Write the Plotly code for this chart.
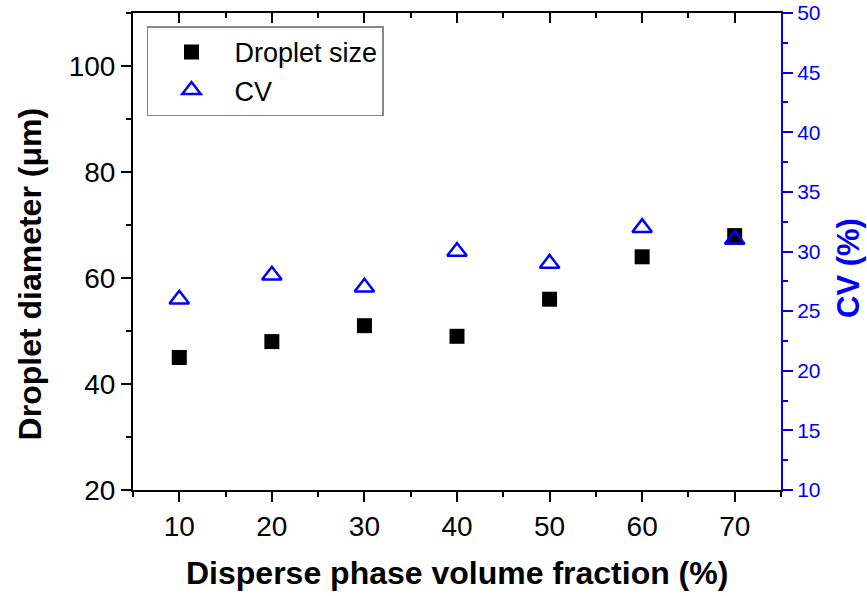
import plotly.graph_objects as go

fraction = [10, 20, 30, 40, 50, 60, 70]
droplet_size = [45, 48, 51, 49, 56, 64, 68]
cv = [26, 28, 27, 30, 29, 32, 31]

FONT = "Liberation Sans, Arial, sans-serif"
BLUE = "#0000FF"

fig = go.Figure()
fig.add_trace(go.Scatter(x=fraction, y=droplet_size, mode="markers", name="Droplet size",
                         marker=dict(symbol="square", size=15, color="black",
                                     line=dict(width=0))))
fig.add_trace(go.Scatter(x=fraction, y=cv, mode="markers", name="CV", yaxis="y2",
                         marker=dict(symbol="triangle-up-open", size=17, color=BLUE,
                                     line=dict(width=2.5, color=BLUE))))
# invisible trace to anchor the top mirror axis
fig.add_trace(go.Scatter(x=[fraction[0]], y=[droplet_size[0]], xaxis="x2", mode="markers",
                         marker=dict(opacity=0), showlegend=False, hoverinfo="skip"))

fig.update_layout(
    width=867, height=596,
    margin=dict(l=133, r=86, t=13, b=106, autoexpand=False),
    paper_bgcolor="white", plot_bgcolor="white",
    font=dict(family=FONT, color="black"),
    showlegend=True,
    legend=dict(x=0.0216, y=0.972, xanchor="left", yanchor="top",
                bgcolor="white", bordercolor="#888888", borderwidth=1.5,
                font=dict(size=27, family=FONT), itemsizing="trace",
                itemwidth=76, entrywidth=186, entrywidthmode="pixels", tracegroupgap=0),
    xaxis=dict(range=[5, 75], tick0=10, dtick=10, ticks="outside", ticklen=10, tickwidth=1.5,
               tickcolor="black", showline=True, linecolor="black", linewidth=2,
               showgrid=False, zeroline=False, automargin=False,
               tickfont=dict(size=28, family=FONT),
               minor=dict(dtick=5, tick0=5, ticks="outside", ticklen=5, tickwidth=1.5, tickcolor="black")),
    xaxis2=dict(range=[5, 75], overlaying="x", side="top", anchor="y",
                tick0=10, dtick=10, ticks="inside", ticklen=10, tickwidth=1.5, tickcolor="black",
                showticklabels=False, showline=True, linecolor="black", linewidth=2,
                showgrid=False, zeroline=False, automargin=False,
                minor=dict(dtick=5, tick0=5, ticks="inside", ticklen=5, tickwidth=1.5, tickcolor="black")),
    yaxis=dict(range=[20, 110], tick0=20, dtick=20, ticks="outside", ticklen=10, tickwidth=1.5,
               tickcolor="black", showline=True, linecolor="black", linewidth=2,
               showgrid=False, zeroline=False, automargin=False,
               tickfont=dict(size=28, family=FONT),
               minor=dict(dtick=10, tick0=20, ticks="outside", ticklen=5, tickwidth=1.5, tickcolor="black")),
    yaxis2=dict(range=[10, 50], overlaying="y", side="right", anchor="x",
                tick0=10, dtick=5, ticks="outside", ticklen=10, tickwidth=1.5,
                tickcolor=BLUE, showline=True, linecolor=BLUE, linewidth=2,
                showgrid=False, zeroline=False, automargin=False,
                ticklabeloverflow="allow",
                tickfont=dict(size=21, family=FONT, color=BLUE),
                minor=dict(dtick=2.5, tick0=10, ticks="outside", ticklen=5, tickwidth=1.5, tickcolor=BLUE)),
    annotations=[
        dict(text="<b>Disperse phase volume fraction (%)</b>", xref="paper", yref="paper",
             x=0.5, y=-0.174, xanchor="center", yanchor="middle", showarrow=False,
             font=dict(size=32, family=FONT, color="black")),
        dict(text="<b>Droplet diameter (μm)</b>", xref="paper", yref="paper",
             x=-0.159, y=0.454, xanchor="center", yanchor="middle", showarrow=False,
             textangle=-90, font=dict(size=32, family=FONT, color="black")),
        dict(text="<b>CV (%)</b>", xref="paper", yref="paper",
             x=1.103, y=0.465, xanchor="center", yanchor="middle", showarrow=False,
             textangle=-90, font=dict(size=31, family=FONT, color=BLUE)),
    ],
)

fig.write_html("out.html", config={"displayModeBar": False},
               post_script="document.body.style.margin='0';document.body.style.overflow='hidden';")
